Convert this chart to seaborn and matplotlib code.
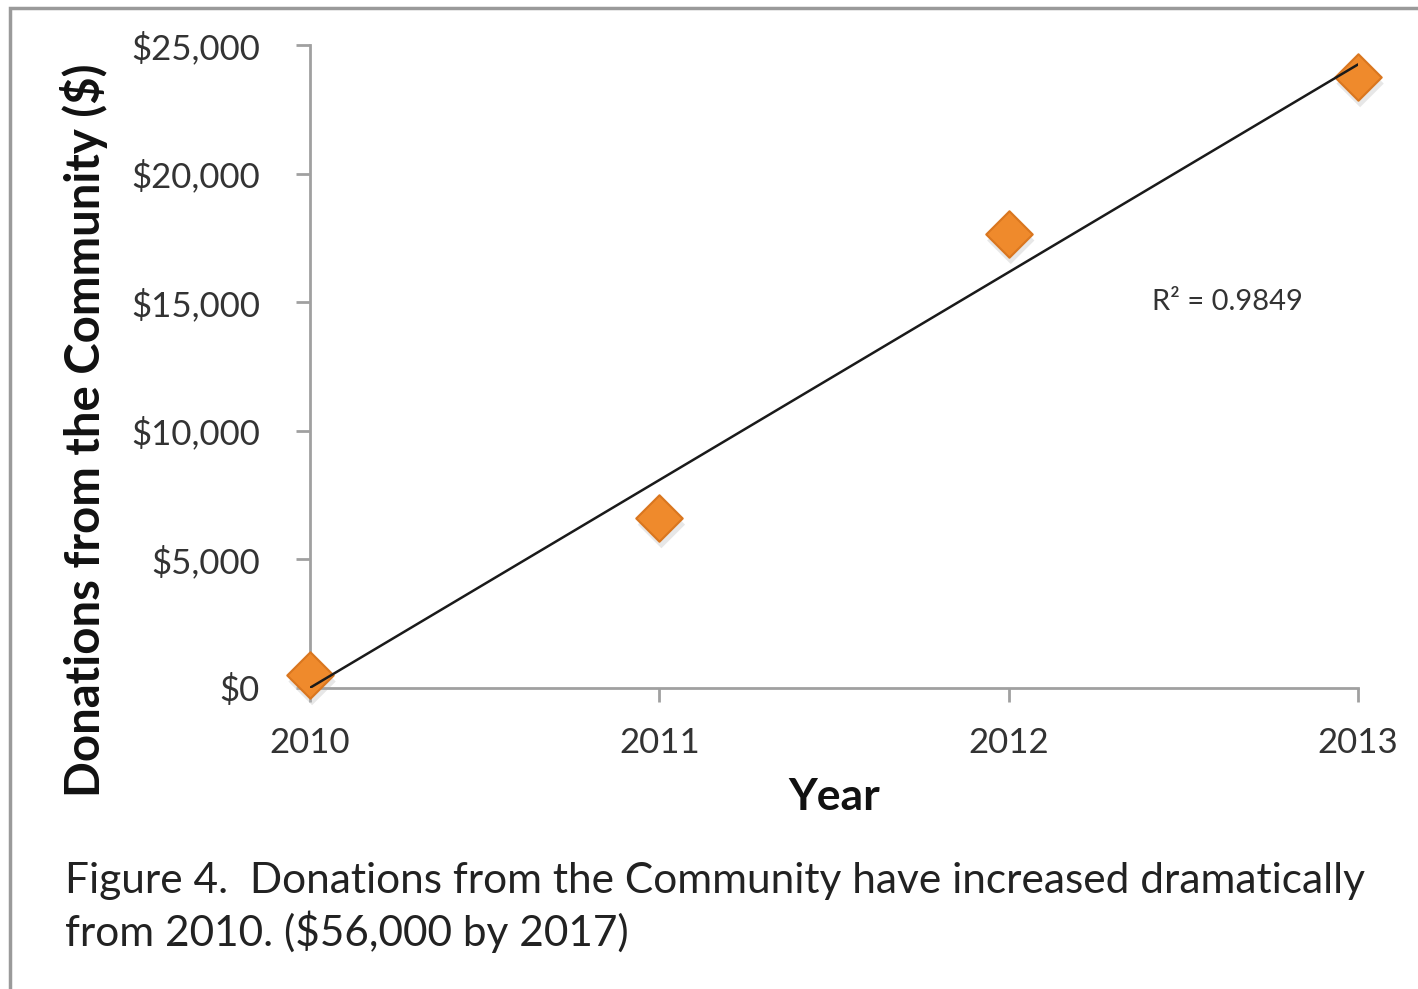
import numpy as np
import pandas as pd
import matplotlib
matplotlib.use("Agg")
import matplotlib.pyplot as plt
import matplotlib.patches as mpatches
import seaborn as sns

years = [2010, 2011, 2012, 2013]
donations = [500, 6600, 17650, 23750]
y_ticks = [0, 5000, 10000, 15000, 20000, 25000]
y_tick_labels = ["$0", "$5,000", "$10,000", "$15,000", "$20,000", "$25,000"]
x_tick_labels = ["2010", "2011", "2012", "2013"]
r2_label = "R² = 0.9849"
caption = ("Figure 4.  Donations from the Community have increased dramatically\n"
           "from 2010. ($56,000 by 2017)")

df = pd.DataFrame({"Year": years, "Donations": donations})

sns.set_style("white")
plt.rcParams["font.family"] = ["Lato", "DejaVu Sans"]

fig = plt.figure(figsize=(14.18, 9.89), dpi=100)
ax = fig.add_axes([0.2186, 0.3044, 0.7391, 0.6501])

# soft drop shadow under each marker
ax.scatter(df["Year"] + 0.006, df["Donations"] - 250, marker="D", s=580,
           color="#bbbbbb", alpha=0.35, edgecolors="none", zorder=2, clip_on=False)
sns.scatterplot(data=df, x="Year", y="Donations", marker="D", s=560,
                color="#ef8a2c", edgecolor="#d9761f", linewidth=1.5, ax=ax,
                zorder=3, clip_on=False)
sns.regplot(data=df, x="Year", y="Donations", scatter=False, ci=None, ax=ax,
            line_kws={"color": "#1a1a1a", "linewidth": 1.8, "zorder": 4})

ax.set_xlim(2010, 2013)
ax.set_ylim(0, 25000)
ax.set_xticks(years)
ax.set_xticklabels(x_tick_labels)
ax.set_yticks(y_ticks)
ax.set_yticklabels(y_tick_labels)

for side in ["top", "right"]:
    ax.spines[side].set_visible(False)
for side in ["left", "bottom"]:
    ax.spines[side].set_color("#a0a0a0")
    ax.spines[side].set_linewidth(2)

ax.tick_params(axis="y", direction="out", length=10, width=2, color="#a0a0a0",
               pad=26, labelsize=25, labelcolor="#333333", left=True)
ax.tick_params(axis="x", direction="out", length=10, width=2, color="#a0a0a0",
               pad=18, labelsize=25, labelcolor="#333333", bottom=True)

ax.set_xlabel("Year", fontsize=32, fontweight="bold", color="#111111")
ax.xaxis.set_label_coords(0.5, -0.138)
ax.set_ylabel("Donations from the Community ($)", fontsize=34, fontweight="bold",
              color="#111111")
ax.yaxis.set_label_coords(-0.1928, 0.401)

ax.text(2012.41, 15008, r2_label, fontsize=21, color="#333333",
        ha="left", va="center")

fig.text(0.046, 0.036, caption, fontsize=30.5, color="#222222",
         ha="left", va="bottom", linespacing=1.3)

# outer frame around the figure (open to the right and bottom)
frame = mpatches.Rectangle((10 / 1418, -0.05), 1.2, 1 - 8 / 989 + 0.05,
                           transform=fig.transFigure, fill=False,
                           edgecolor="#9a9a9a", linewidth=2.5, zorder=0)
fig.patches.append(frame)

fig.savefig("out.png", dpi=100)
